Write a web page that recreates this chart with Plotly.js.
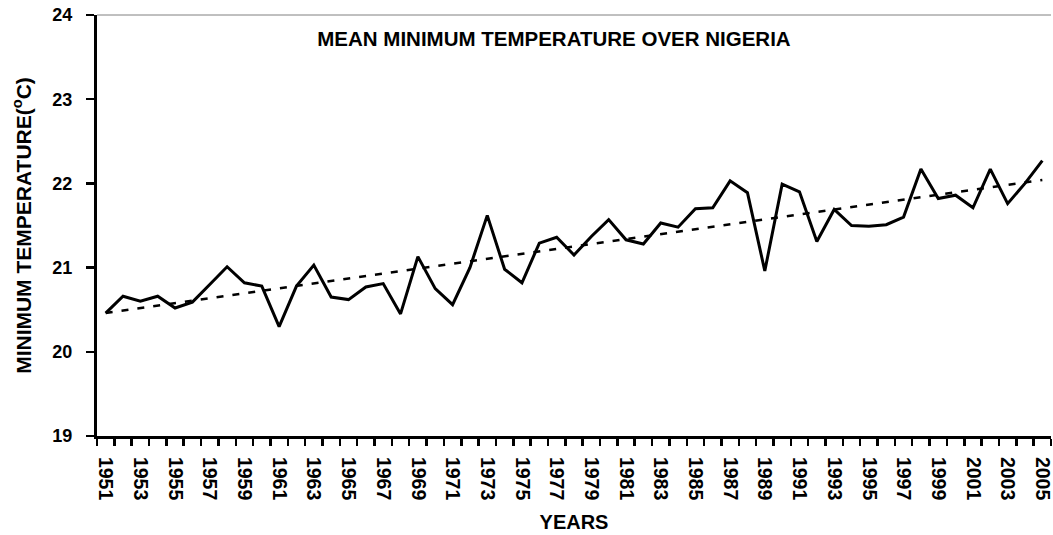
<!DOCTYPE html>
<html>
<head>
<meta charset="utf-8">
<script src="https://cdn.plot.ly/plotly-3.0.1.min.js"></script>
<style>
  html, body { margin: 0; padding: 0; background: #fff; }
  #chart { width: 1053px; height: 535px; }
</style>
</head>
<body>
<div id="chart"></div>
<script>
// Years 1951..2005
const years = [1951,1952,1953,1954,1955,1956,1957,1958,1959,1960,
               1961,1962,1963,1964,1965,1966,1967,1968,1969,1970,
               1971,1972,1973,1974,1975,1976,1977,1978,1979,1980,
               1981,1982,1983,1984,1985,1986,1987,1988,1989,1990,
               1991,1992,1993,1994,1995,1996,1997,1998,1999,2000,
               2001,2002,2003,2004,2005];

// Mean minimum temperature (°C)
const minTemp = [20.46,20.66,20.60,20.66,20.52,20.59,20.80,21.01,20.82,20.78,
                 20.30,20.78,21.03,20.65,20.62,20.77,20.81,20.45,21.13,20.75,
                 20.56,21.00,21.62,20.98,20.82,21.29,21.36,21.15,21.37,21.57,
                 21.33,21.28,21.53,21.48,21.70,21.71,22.03,21.89,20.96,21.99,
                 21.90,21.31,21.69,21.50,21.49,21.51,21.60,22.17,21.82,21.86,
                 21.71,22.17,21.76,22.00,22.27];

// Linear trend line end points
const trendYears = [1951, 2005];
const trendValues = [20.46, 22.04];

// Tick labels (every other year)
const tickYears = years.filter((y, i) => i % 2 === 0);
const tickLabels = tickYears.map(String);

const FONT = "Liberation Sans, Arial, sans-serif";

const traces = [
  {
    x: years, y: minTemp, type: 'scatter', mode: 'lines',
    line: { color: '#000', width: 3 },
    hoverinfo: 'x+y', showlegend: false
  },
  {
    x: trendYears, y: trendValues, type: 'scatter', mode: 'lines',
    line: { color: '#000', width: 2.5, dash: '7px,9px' },
    hoverinfo: 'skip', showlegend: false
  }
];

const layout = {
  width: 1053, height: 535,
  margin: { l: 97, r: 2, t: 15, b: 98.5 },
  paper_bgcolor: '#fff', plot_bgcolor: '#fff',
  showlegend: false,
  title: {
    text: 'MEAN MINIMUM TEMPERATURE OVER NIGERIA',
    font: { family: FONT, size: 20.5, color: '#000', weight: 'bold' },
    xref: 'paper', x: 0.479, xanchor: 'center',
    yref: 'container', y: 1 - 39 / 535, yanchor: 'middle'
  },
  xaxis: {
    type: 'linear',
    range: [1950.5, 2005.5],
    tickmode: 'array', tickvals: tickYears, ticktext: tickLabels,
    ticks: '', tickangle: 90,
    ticklabelstandoff: 14,
    ticklabeloverflow: 'allow',
    tickfont: { family: FONT, size: 19.5, color: '#000', weight: 'bold' },
    minor: { tickmode: 'linear', tick0: 1950.5, dtick: 1, ticks: 'outside', ticklen: 7, tickwidth: 2.5, tickcolor: '#000', showgrid: false },
    showline: true, linecolor: '#000', linewidth: 3,
    showgrid: false, zeroline: false,
    fixedrange: true,
    title: {
      text: 'YEARS',
      font: { family: FONT, size: 20, color: '#000', weight: 'bold' },
      standoff: 16
    }
  },
  yaxis: {
    range: [19, 24],
    tickmode: 'linear', tick0: 19, dtick: 1,
    ticks: 'outside', ticklen: 8, tickwidth: 2.5, tickcolor: '#000',
    ticklabelstandoff: 10,
    tickfont: { family: FONT, size: 18, color: '#000', weight: 'bold' },
    showline: true, linecolor: '#000', linewidth: 3,
    showgrid: false, zeroline: false,
    fixedrange: true,
    title: {
      text: 'MINIMUM TEMPERATURE(<sup>o</sup>C)',
      font: { family: FONT, size: 21, color: '#000', weight: 'bold' },
      standoff: 16
    }
  },
  shapes: [
    { type: 'line', xref: 'paper', yref: 'paper', x0: 0, x1: 1, y0: 1, y1: 1,
      line: { color: '#808080', width: 1 } }
  ]
};

Plotly.newPlot('chart', traces, layout, { displayModeBar: false, staticPlot: true });
</script>
</body>
</html>
